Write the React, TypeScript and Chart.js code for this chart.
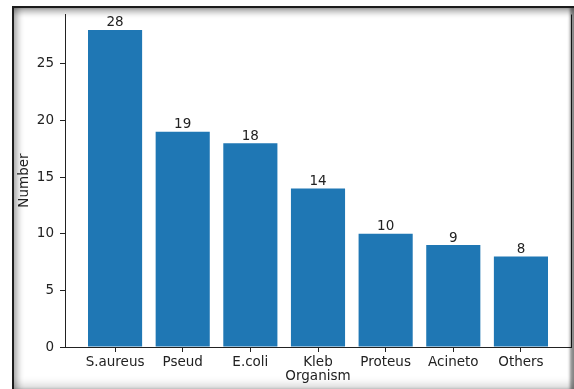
import { useEffect, useRef } from "react";
import { Chart, registerables } from "chart.js";

Chart.register(...registerables);

// Organism counts
const organisms = ["S.aureus", "Pseud", "E.coli", "Kleb", "Proteus", "Acineto", "Others"];
const counts = [28, 19, 18, 14, 10, 9, 8];
const yTickValues = [0, 5, 10, 15, 20, 25];
const yAxisMax = 29.4;
const xAxisMin = -0.74;
const xAxisMax = 6.74;

const FONT = "'DejaVu Sans', 'Liberation Sans', sans-serif";
const FONT_SIZE = 13.5;
const TEXT = "#222";
const BAR = "#1f77b4";

// Writes the count above each bar
const barValueLabels = {
  id: "barValueLabels",
  afterDatasetsDraw(chart: any) {
    const ctx = chart.ctx;
    const meta = chart.getDatasetMeta(0);
    ctx.save();
    ctx.font = `${FONT_SIZE}px ${FONT}`;
    ctx.fillStyle = TEXT;
    ctx.textAlign = "center";
    ctx.textBaseline = "alphabetic";
    meta.data.forEach((bar: any, i: number) => {
      ctx.fillText(String(counts[i]), bar.x, bar.y - 3.5);
    });
    ctx.restore();
  },
};

// Right-hand spine of the plot frame
const rightSpine = {
  id: "rightSpine",
  afterDraw(chart: any) {
    const { ctx, chartArea } = chart;
    ctx.save();
    ctx.strokeStyle = TEXT;
    ctx.lineWidth = 1;
    ctx.beginPath();
    ctx.moveTo(Math.round(chartArea.right) + 0.5, Math.round(chartArea.top) + 0.5);
    ctx.lineTo(Math.round(chartArea.right) + 0.5, Math.round(chartArea.bottom) + 0.5);
    ctx.stroke();
    ctx.restore();
  },
};

export default function App() {
  const canvasRef = useRef<HTMLCanvasElement | null>(null);

  useEffect(() => {
    const canvas = canvasRef.current;
    if (!canvas) return;
    const chart = new Chart(canvas, {
      type: "bar",
      data: {
        datasets: [
          {
            data: counts.map((v, i) => ({ x: i, y: v })),
            backgroundColor: BAR,
            borderWidth: 0,
            barPercentage: 0.8,
            categoryPercentage: 1.0,
          },
        ],
      },
      options: {
        responsive: false,
        animation: false,
        devicePixelRatio: 1,
        layout: { padding: { left: 0, top: 12, right: 3, bottom: 0 } },
        plugins: {
          legend: { display: false },
          tooltip: { enabled: false },
        },
        scales: {
          x: {
            type: "linear",
            offset: false,
            min: xAxisMin,
            max: xAxisMax,
            afterBuildTicks: (scale: any) => {
              scale.ticks = organisms.map((_, i) => ({ value: i }));
            },
            afterFit: (scale: any) => {
              scale.height = 42;
            },
            ticks: {
              autoSkip: false,
              maxRotation: 0,
              padding: 2,
              color: TEXT,
              font: { family: FONT, size: FONT_SIZE },
              callback: (v: any) => organisms[v] ?? "",
            },
            grid: {
              offset: false,
              drawOnChartArea: false,
              drawTicks: true,
              tickLength: 5,
              color: TEXT,
              lineWidth: 1,
            },
            border: { display: true, color: TEXT, width: 1 },
            title: {
              display: true,
              text: "Organism",
              color: TEXT,
              font: { family: FONT, size: FONT_SIZE },
              padding: { top: 0, bottom: 4 },
            },
          },
          y: {
            type: "linear",
            min: 0,
            max: yAxisMax,
            afterBuildTicks: (scale: any) => {
              scale.ticks = yTickValues.map((v) => ({ value: v }));
            },
            afterFit: (scale: any) => {
              scale.width = 65;
            },
            ticks: {
              padding: 6,
              color: TEXT,
              font: { family: FONT, size: FONT_SIZE },
              callback: (v: any) => String(v),
            },
            grid: {
              drawOnChartArea: false,
              drawTicks: true,
              tickLength: 5,
              color: TEXT,
              lineWidth: 1,
            },
            border: { display: true, color: TEXT, width: 1 },
            title: {
              display: true,
              text: "Number",
              color: TEXT,
              font: { family: FONT, size: FONT_SIZE },
              padding: { top: 16, bottom: 0 },
            },
          },
        },
      },
      plugins: [barValueLabels, rightSpine],
    });
    return () => chart.destroy();
  }, []);

  return (
    <div
      style={{
        position: "fixed",
        left: 0,
        top: 0,
        width: 574,
        height: 389,
        background: "#fff",
        overflow: "hidden",
      }}
    >
      <canvas
        ref={canvasRef}
        width={574}
        height={389}
        style={{ display: "block", position: "absolute", left: 0, top: 0 }}
      />
      <div
        style={{
          position: "absolute",
          left: 12,
          top: 6,
          width: 562,
          height: 383,
          boxSizing: "border-box",
          borderTop: "2px solid #1c1c1c",
          borderLeft: "2px solid #1c1c1c",
          boxShadow:
            "inset 0 7px 6px -3px rgba(0,0,0,0.35), inset 7px 0 6px -3px rgba(0,0,0,0.3), inset -5px 0 3px -1px rgba(0,0,0,0.45), inset 0 -12px 10px -8px rgba(0,0,0,0.18)",
          pointerEvents: "none",
        }}
      />
    </div>
  );
}
